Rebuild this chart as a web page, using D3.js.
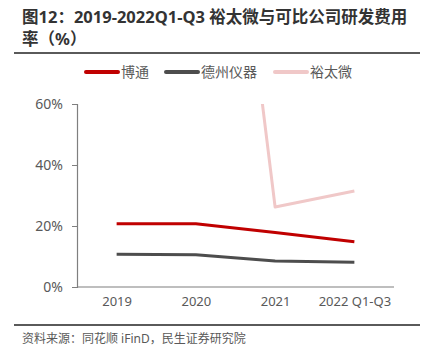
<!DOCTYPE html>
<html><head><meta charset="utf-8">
<script src="https://cdn.jsdelivr.net/npm/d3@7/dist/d3.min.js"></script>
<style>body{margin:0;background:#fff}svg{display:block}</style>
</head><body>
<svg id="c" width="433" height="356"></svg>
<script>
const categories = ["2019", "2020", "2021", "2022 Q1-Q3"];
const seriesNames = ["博通", "德州仪器", "裕太微"];
const boTong = [20.7, 20.7, 17.9, 14.8];
const ti = [10.7, 10.6, 8.5, 8.1];
const yuTaiWei = [null, 237, 26.2, 31.5];
const yTicks = [0, 20, 40, 60];
const colors = ["#C00000", "#4D4D4D", "#F0C8C8"];
const series = [boTong, ti, yuTaiWei];

(function () {
const svg = d3.select("#c");
const font = "'Noto Sans', 'Noto Sans CJK SC', sans-serif";

const title = svg.append("g").attr("font-family", font).attr("font-weight", "bold").attr("fill", "#333").attr("font-size", 16.5);
title.append("text").attr("x", 22).attr("y", 23).text("图12：2019-2022Q1-Q3 裕太微与可比公司研发费用");
title.append("text").attr("x", 22).attr("y", 45).text("率（%）");
svg.append("line").attr("x1", 14).attr("x2", 420).attr("y1", 53).attr("y2", 53).attr("stroke", "#5a5a5a").attr("stroke-width", 2);

const mL = 77, mR = 394, mT = 104, mB = 287;
const x = d3.scalePoint().domain(categories).range([mL, mR]).padding(0.5);
const y = d3.scaleLinear().domain([0, 60]).range([mB, mT]);

svg.append("defs").append("clipPath").attr("id", "clip").append("rect")
  .attr("x", mL).attr("y", mT).attr("width", mR - mL).attr("height", mB - mT);

const ya = svg.append("g").attr("transform", `translate(${mL},0)`)
  .call(d3.axisLeft(y).tickValues(yTicks).tickFormat(d => d + "%").tickSize(5).tickPadding(9));
ya.select(".domain").attr("stroke", "#7f7f7f").attr("stroke-width", 1.2);
ya.selectAll(".tick line").attr("stroke", "#7f7f7f");
ya.selectAll("text").attr("font-family", font).attr("font-size", 14).attr("fill", "#595959");

const xa = svg.append("g").attr("transform", `translate(0,${mB})`)
  .call(d3.axisBottom(x).tickSize(0).tickPadding(10));
xa.select(".domain").attr("d", `M${mL},0H${mR}`).attr("stroke", "#7f7f7f").attr("stroke-width", 1.2);
xa.selectAll("text").attr("font-family", font).attr("font-size", 13).attr("fill", "#595959");

const line = d3.line().defined(d => d[1] !== null).x(d => x(d[0])).y(d => y(d[1]));
const lg = svg.append("g").attr("clip-path", "url(#clip)");
series.forEach((s, i) => {
  lg.append("path").datum(categories.map((c, j) => [c, s[j]]))
    .attr("d", line).attr("fill", "none").attr("stroke", colors[i]).attr("stroke-width", 3)
    .attr("stroke-linejoin", "round");
});

const legX = [86, 166, 275];
const leg = svg.append("g").attr("font-family", font).attr("font-size", 14).attr("fill", "#595959");
seriesNames.forEach((n, i) => {
  leg.append("line").attr("x1", legX[i]).attr("x2", legX[i] + 32).attr("y1", 72).attr("y2", 72)
    .attr("stroke", colors[i]).attr("stroke-width", 4).attr("stroke-linecap", "round");
  leg.append("text").attr("x", legX[i] + 35).attr("y", 72).attr("dy", "0.35em").text(n);
});

svg.append("line").attr("x1", 14).attr("x2", 420).attr("y1", 325).attr("y2", 325).attr("stroke", "#5a5a5a").attr("stroke-width", 2);
svg.append("text").attr("x", 22).attr("y", 343).attr("font-family", font).attr("font-size", 12).attr("fill", "#595959")
  .text("资料来源：同花顺 iFinD，民生证券研究院");
})();
</script>
</body></html>
